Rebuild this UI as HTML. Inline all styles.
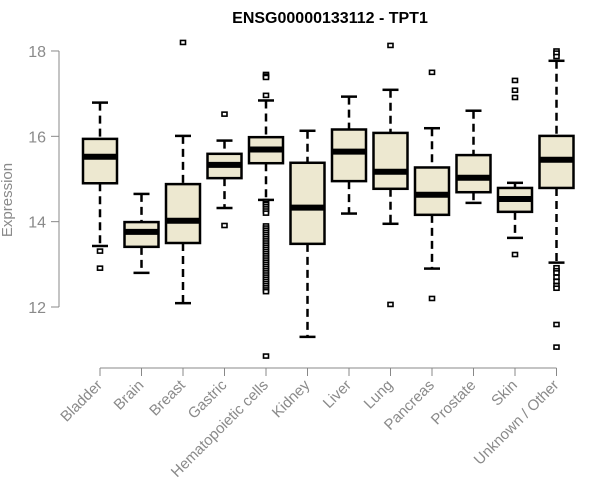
<!DOCTYPE html>
<html><head><meta charset="utf-8"><style>body{margin:0;background:#fff}svg{display:block}text{font-family:"Liberation Sans",sans-serif}</style></head>
<body>
<svg id="chart" width="600" height="500" xmlns="http://www.w3.org/2000/svg">
<text x="330" y="23" text-anchor="middle" font-size="16" font-weight="bold">ENSG00000133112 - TPT1</text>
<text transform="translate(12,200) rotate(-90)" text-anchor="middle" font-size="15" fill="#8a8a8a">Expression</text>
<g id="plot"></g>
</svg>
<script>
const categories=["Bladder","Brain","Breast","Gastric","Hematopoietic cells","Kidney","Liver","Lung","Pancreas","Prostate","Skin","Unknown / Other"];
const whiskerLow=[13.43,12.80,12.09,14.32,14.51,11.30,14.19,13.95,12.90,14.44,13.62,13.04];
const q1=[14.90,13.41,13.50,15.02,15.37,13.48,14.95,14.77,14.16,14.69,14.23,14.79];
const medians=[15.52,13.76,14.02,15.33,15.69,14.33,15.64,15.17,14.63,15.03,14.53,15.45];
const q3=[15.94,13.99,14.88,15.59,15.98,15.38,16.16,16.08,15.27,15.56,14.79,16.01];
const whiskerHigh=[16.79,14.65,16.01,15.90,16.84,16.13,16.93,17.09,16.19,16.60,14.91,17.77];
const outliers=[[13.31,12.91],[],[18.2],[16.52,13.91],[17.45,17.41,17.38,16.96,14.47,14.43,14.4,14.35,14.3,14.25,14.2,13.9,13.85,13.8,13.75,13.7,13.65,13.6,13.55,13.5,13.45,13.4,13.35,13.3,13.25,13.2,13.15,13.1,13.05,13.0,12.95,12.9,12.85,12.8,12.75,12.7,12.65,12.6,12.55,12.5,12.45,12.4,12.36,10.85],[],[],[18.13,12.06],[17.5,12.20],[],[17.31,17.08,16.91,13.23],[18.0,17.95,17.87,12.92,12.85,12.8,12.7,12.6,12.5,12.44,11.59,11.06]];
const yTicks=[12,14,16,18];
const NS="http://www.w3.org/2000/svg";
const g=document.getElementById('plot');
const y=v=>307-(v-12)*42.67;
const x=i=>100+41.5*i;
function mk(t,a){const e=document.createElementNS(NS,t);for(const k in a)e.setAttribute(k,a[k]);g.appendChild(e);return e;}
let e=mk('line',{x1:59,x2:59,y1:y(12),y2:y(18),stroke:'#888'});


yTicks.forEach(v=>{
 let t=mk('line',{x1:51,x2:59,y1:y(v),y2:y(v),stroke:'#888'});
 
 
 let l=mk('text',{x:46,y:y(v)+6,'text-anchor':'end','font-size':16,fill:'#8a8a8a'});l.textContent=v;
 
 
});
e=mk('line',{x1:x(0),x2:x(categories.length-1),y1:368,y2:368,stroke:'#888'});


categories.forEach((c,i)=>{
 const cx=x(i),hw=17;
 let t=mk('line',{x1:cx,x2:cx,y1:368,y2:376,stroke:'#888'});
 
 
 let l=mk('text',{transform:`translate(${cx+3},${386}) rotate(-45)`,'text-anchor':'end','font-size':15,fill:'#8a8a8a'});l.textContent=c;
 
 
 let w=mk('line',{x1:cx,x2:cx,y1:y(whiskerHigh[i]),y2:y(q3[i]),stroke:'#000','stroke-width':2.5,'stroke-dasharray':'8,5'});
 
 
 w=mk('line',{x1:cx,x2:cx,y1:y(q1[i]),y2:y(whiskerLow[i]),stroke:'#000','stroke-width':2.5,'stroke-dasharray':'8,5'});
 
 
 [whiskerHigh[i],whiskerLow[i]].forEach(v=>{let c2=mk('line',{x1:cx-8,x2:cx+8,y1:y(v),y2:y(v),stroke:'#000','stroke-width':2.5});
  
  });
 let b=mk('rect',{x:cx-hw,y:y(q3[i]),width:hw*2,height:y(q1[i])-y(q3[i]),fill:'#ede8d0',stroke:'#000','stroke-width':2.5});
 
 
 let m=mk('line',{x1:cx-hw,x2:cx+hw,y1:y(medians[i]),y2:y(medians[i]),stroke:'#000','stroke-width':6});
 
 
 outliers[i].forEach(v=>{let o=mk('rect',{x:cx-2.5,y:y(v)-2,width:5,height:4,fill:'#fff',stroke:'#000','stroke-width':1.6});
  
  });
});
</script>
</body></html>
